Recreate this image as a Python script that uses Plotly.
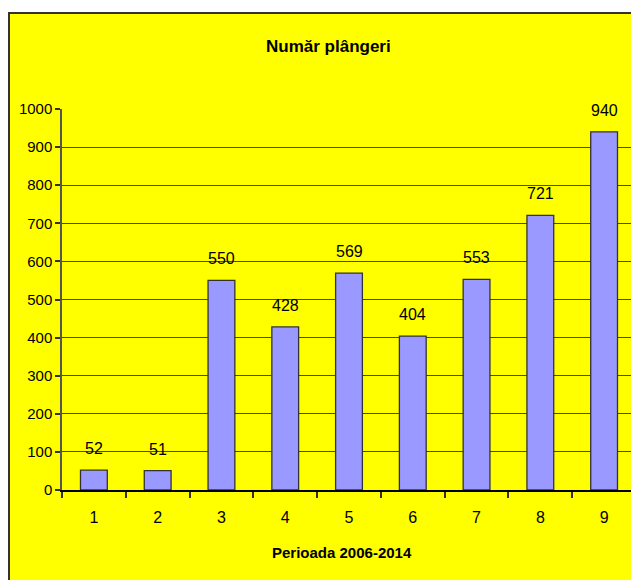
import plotly.graph_objects as go

categories = ["1", "2", "3", "4", "5", "6", "7", "8", "9"]
values = [52, 51, 550, 428, 569, 404, 553, 721, 940]
title_text = "Număr plângeri"
x_title = "Perioada 2006-2014"

FONT = "Liberation Sans Narrow, Arial Narrow, Liberation Sans, Arial, sans-serif"

# the page body adds an 8px offset; figure coordinates = reference - 8
OFF = 8
W, H = 631, 572
ML, MR, MT, MB = 54, 3, 101, 90
pw = W - ML - MR
ph = H - MT - MB

def px_x(x):
    return (x - OFF - ML) / pw

def px_y(y):
    return (H - MB - (y - OFF)) / ph

fig = go.Figure()
fig.add_trace(go.Bar(
    x=categories, y=values,
    marker=dict(color="#9999FF", line=dict(color="#333333", width=1.3)),
    width=0.42,
    hoverinfo="x+y",
))

for i, v in enumerate(values):
    fig.add_annotation(x=i, y=v, text=str(values[i]), showarrow=False,
                       yanchor="bottom", yshift=11,
                       font=dict(family=FONT, size=16, color="#000000"))

# yellow chart area with border
fig.add_shape(type="rect", xref="paper", yref="paper",
              x0=px_x(9), x1=px_x(650), y0=px_y(620), y1=px_y(13),
              fillcolor="#FFFF00", line=dict(color="#333333", width=2),
              layer="below")

fig.add_annotation(xref="paper", yref="paper", x=px_x(328), y=px_y(47),
                   xanchor="center", yanchor="middle",
                   text="<b>" + title_text + "</b>", showarrow=False,
                   font=dict(family=FONT, size=17, color="#000000"))
fig.add_annotation(xref="paper", yref="paper", x=px_x(342), y=px_y(552),
                   xanchor="center", yanchor="middle",
                   text="<b>" + x_title + "</b>", showarrow=False,
                   font=dict(family=FONT, size=15, color="#000000"))

fig.update_layout(
    width=W, height=H,
    margin=dict(l=ML, r=MR, t=MT, b=MB, pad=0),
    paper_bgcolor="#FFFFFF",
    plot_bgcolor="#C0C0C0",
    showlegend=False,
    font=dict(family=FONT, size=15, color="#000000"),
)
fig.update_xaxes(
    type="category", tickson="boundaries", ticks="outside", ticklen=6,
    tickcolor="#333333", tickwidth=1.5, showgrid=False,
    showline=True, linecolor="#000000", linewidth=1.5,
    tickfont=dict(family=FONT, size=16), ticklabelstandoff=12,
)
fig.update_yaxes(
    range=[0, 1000], dtick=100, ticks="outside", ticklen=5,
    tickcolor="#333333", tickwidth=1.5,
    showgrid=True, gridcolor="#444444", gridwidth=1,
    showline=True, linecolor="#555555", linewidth=1.5,
    zeroline=False, tickfont=dict(family=FONT, size=15),
)

fig.write_html("out.html")
